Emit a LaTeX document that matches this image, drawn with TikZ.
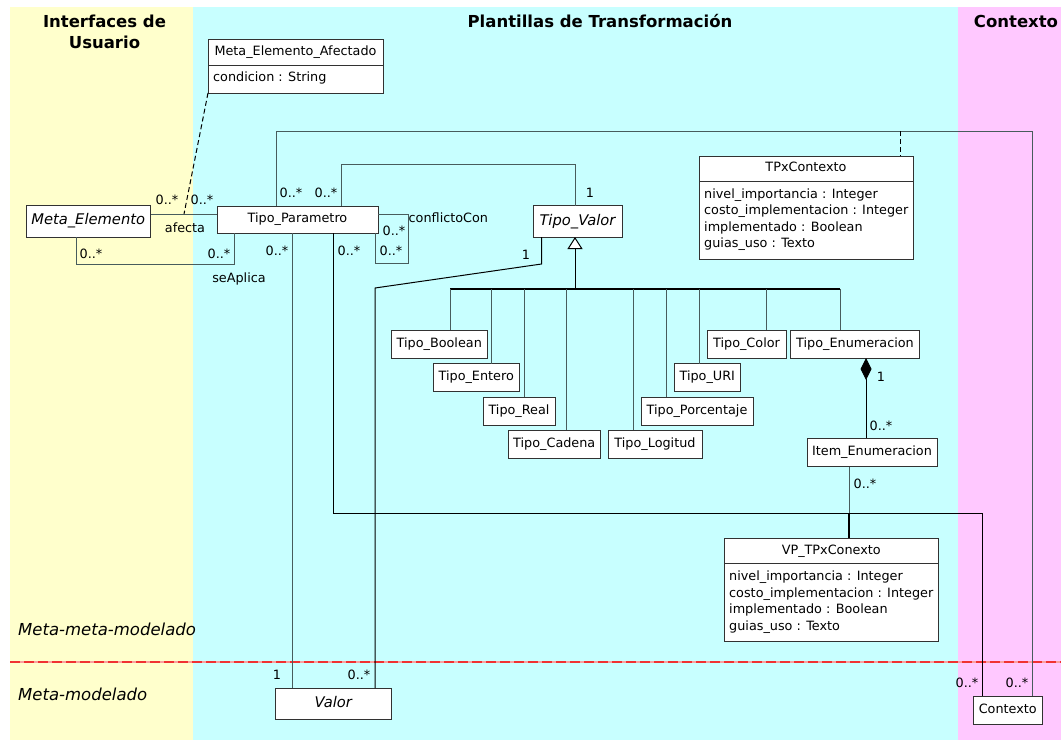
\documentclass[tikz,border=0pt]{standalone}
\usepackage{fontspec}
\setmainfont{DejaVu Sans}
\usetikzlibrary{arrows.meta}
\definecolor{bgyellow}{RGB}{255,255,204}
\definecolor{bgcyan}{RGB}{200,255,255}
\definecolor{bgpink}{RGB}{255,200,255}
\definecolor{wirecol}{RGB}{72,92,92}
\definecolor{boxline}{RGB}{50,50,50}
\definecolor{cutred}{RGB}{240,50,50}
\definecolor{cutpale}{RGB}{250,160,160}

\begin{document}
\begin{tikzpicture}[x=1pt,y=-1pt,
  box/.style={draw=boxline, fill=white, line width=1pt, inner sep=0pt, outer sep=0pt,
    font=\fontsize{12.8}{15}\selectfont, text height=9.5pt, text depth=3pt},
  absbox/.style={box, font=\fontsize{14.7}{17}\selectfont\itshape, text height=11pt, text depth=3.5pt},
  lbl/.style={inner sep=0pt, font=\fontsize{12.8}{15}\selectfont, text height=9.5pt, text depth=3pt},
  attr/.style={lbl, anchor=west},
  wire/.style={draw=wirecol, line width=1pt},
  darkwire/.style={draw=black, line width=1pt},
  title/.style={inner sep=0pt, font=\fontsize{16.5}{21}\selectfont\bfseries, align=center},
  layer/.style={inner sep=0pt, anchor=west, font=\fontsize{16.5}{20}\selectfont\itshape},
]
\useasboundingbox (0,0) rectangle (1061,740);

% swimlanes
\fill[bgyellow] (10,7) rectangle (193,740);
\fill[bgcyan] (193,7) rectangle (958,740);
\fill[bgpink] (958,7) rectangle (1061,740);

\node[title] (tUI) at (104.5,31.5) {Interfaces de\\Usuario};
\node[title] (tPT) at (600,21) {Plantillas de Transformación};
\node[title] (tCX) at (1016,21) {Contexto};

% level separator
\draw[cutpale, line width=2pt] (10,662) -- (1061,662);
\draw[cutred, line width=2pt, dash pattern=on 10pt off 4pt] (10,662) -- (1061,662);
\node[layer] (lmm) at (18,629) {Meta-meta-modelado};
\node[layer] (lm) at (18,694) {Meta-modelado};

% classes
\node[box, minimum width=175pt, minimum height=54pt] (mea) at (295.5,66) {};
\node[lbl] (meaN) at (295.5,52) {Meta\_Elemento\_Afectado};
\draw[draw=boxline, line width=1pt] (mea.west |- 0,65) -- (mea.east |- 0,65);
\node[attr] (meaA) at (213,78) {condicion : String};

\node[absbox, minimum width=124.5pt, minimum height=32pt] (me) at (88.25,221) {Meta\_Elemento};
\node[box, minimum width=161pt, minimum height=27pt] (tp) at (297.5,219.5) {Tipo\_Parametro};
\node[absbox, minimum width=89pt, minimum height=31.5pt] (tv) at (577.5,221.25) {Tipo\_Valor};

\node[box, minimum width=214pt, minimum height=103pt] (tpx) at (806,207.5) {};
\node[lbl] (tpxN) at (806,168.5) {TPxContexto};
\draw[draw=boxline, line width=1pt] (tpx.west |- 0,181) -- (tpx.east |- 0,181);
\node[attr] (tpxA1) at (704,195) {nivel\_importancia : Integer};
\node[attr] (tpxA2) at (704,211.5) {costo\_implementacion : Integer};
\node[attr] (tpxA3) at (704,228) {implementado : Boolean};
\node[attr] (tpxA4) at (704,244.5) {guias\_uso : Texto};

\node[box, minimum width=95.5pt, minimum height=28pt] (tb) at (439.25,344) {Tipo\_Boolean};
\node[box, minimum width=86.5pt, minimum height=28pt] (te) at (476.25,377.5) {Tipo\_Entero};
\node[box, minimum width=72pt, minimum height=28pt] (tr) at (519,411) {Tipo\_Real};
\node[box, minimum width=92.5pt, minimum height=28pt] (tc) at (554.25,444) {Tipo\_Cadena};
\node[box, minimum width=94pt, minimum height=28pt] (tl) at (655,444) {Tipo\_Logitud};
\node[box, minimum width=112pt, minimum height=28pt] (tpo) at (697,411) {Tipo\_Porcentaje};
\node[box, minimum width=66.5pt, minimum height=28pt] (turi) at (707.25,377.5) {Tipo\_URI};
\node[box, minimum width=79pt, minimum height=28pt] (tcol) at (746.5,344) {Tipo\_Color};
\node[box, minimum width=129pt, minimum height=28pt] (tenum) at (855,344) {Tipo\_Enumeracion};
\node[box, minimum width=130pt, minimum height=28.5pt] (item) at (872,452.25) {Item\_Enumeracion};

\node[box, minimum width=214.5pt, minimum height=103.5pt] (vp) at (831.25,589.75) {};
\node[lbl] (vpN) at (831.25,551) {VP\_TPxConexto};
\draw[draw=boxline, line width=1pt] (vp.west |- 0,563) -- (vp.east |- 0,563);
\node[attr] (vpA1) at (729,577.5) {nivel\_importancia : Integer};
\node[attr] (vpA2) at (729,594) {costo\_implementacion : Integer};
\node[attr] (vpA3) at (729,610.5) {implementado : Boolean};
\node[attr] (vpA4) at (729,627) {guias\_uso : Texto};

\node[absbox, minimum width=116.5pt, minimum height=31pt] (valor) at (333.25,703.5) {Valor};
\node[box, minimum width=69.5pt, minimum height=28pt] (ctx) at (1007.75,710) {Contexto};

% associations
\coordinate (afm) at (184,214);
\draw[wire] (me.east |- 0,214) -- (tp.west |- 0,214);
\draw[draw=black, line width=1pt, dash pattern=on 5pt off 3pt] (mea.south west) -- (afm);
\draw[wire] (me.south -| 76,0) -- (76,264) -- (234,264) -- (tp.south -| 234,0);
\draw[wire] (tp.east |- 0,214) -- (408,214) -- (408,263) -- (375,263) -- (tp.south -| 375,0);
\draw[wire] (tp.north -| 276,0) -- (276,131) -- (1032,131) -- (ctx.north -| 1032,0);
\coordinate (tpxa) at (900,131);
\draw[draw=black, line width=1pt, dash pattern=on 5pt off 3pt] (tpxa) -- (tpx.north -| 900,0);
\draw[wire] (tp.north -| 341.5,0) -- (341.5,164) -- (575,164) -- (tv.north -| 575,0);
\draw[wire] (tp.south -| 292,0) -- (valor.north -| 292,0);
\draw[darkwire] (tv.south -| 541.5,0) -- (541.5,264) -- (375,288) -- (valor.north -| 375,0);
\draw[darkwire] (tp.south -| 333,0) -- (333,513) -- (982,513) -- (ctx.north -| 982,0);
\draw[wire] (item.south -| 849,0) -- (849,513);
\draw[draw=black, line width=2pt] (849,513) -- (vp.north -| 849,0);

% composition
\draw[darkwire, {Diamond[length=22pt,width=11pt]}-] (tenum.south -| 866,0) -- (item.north -| 866,0);

% generalization
\coordinate (bus) at (575,289);
\draw[darkwire, -{Triangle[open,length=12pt,width=15pt,fill=white]}] (bus) -- (tv.south -| bus);
\draw[draw=black, line width=1.4pt] (450,289) -- (840,289);
\draw[wire] (tb.north -| 450,0) -- (450,289);
\draw[wire] (te.north -| 491,0) -- (491,289);
\draw[wire] (tr.north -| 524.5,0) -- (524.5,289);
\draw[wire] (tc.north -| 566,0) -- (566,289);
\draw[wire] (tl.north -| 633,0) -- (633,289);
\draw[wire] (tpo.north -| 666,0) -- (666,289);
\draw[wire] (turi.north -| 699,0) -- (699,289);
\draw[wire] (tcol.north -| 766,0) -- (766,289);
\draw[wire] (tenum.north -| 840,0) -- (840,289);

% role names and multiplicities
\node[lbl] (m1) at (167,201) {0..*};
\node[lbl] (m2) at (202,201) {0..*};
\node[lbl] (afl) at (185,229) {afecta};
\node[lbl] (m3) at (91,255) {0..*};
\node[lbl] (m4) at (219,255) {0..*};
\node[lbl] (sal) at (239,279) {seAplica};
\node[lbl] (m5) at (291,194) {0..*};
\node[lbl] (m6) at (326,194) {0..*};
\node[lbl] (m7) at (590,194) {1};
\node[lbl, anchor=west] (ccl) at (408.5,219.5) {conflictoCon};
\node[lbl] (m8) at (394,232.5) {0..*};
\node[lbl] (m9) at (391,252) {0..*};
\node[lbl] (m10) at (277,252) {0..*};
\node[lbl] (m11) at (349,252) {0..*};
\node[lbl] (m12) at (526,256) {1};
\node[lbl] (m13) at (881,378) {1};
\node[lbl] (m14) at (881,427) {0..*};
\node[lbl] (m15) at (865,485) {0..*};
\node[lbl] (m16) at (277,676) {1};
\node[lbl] (m17) at (359,676) {0..*};
\node[lbl] (m18) at (967,684) {0..*};
\node[lbl] (m19) at (1017,684) {0..*};
\end{tikzpicture}
\end{document}
